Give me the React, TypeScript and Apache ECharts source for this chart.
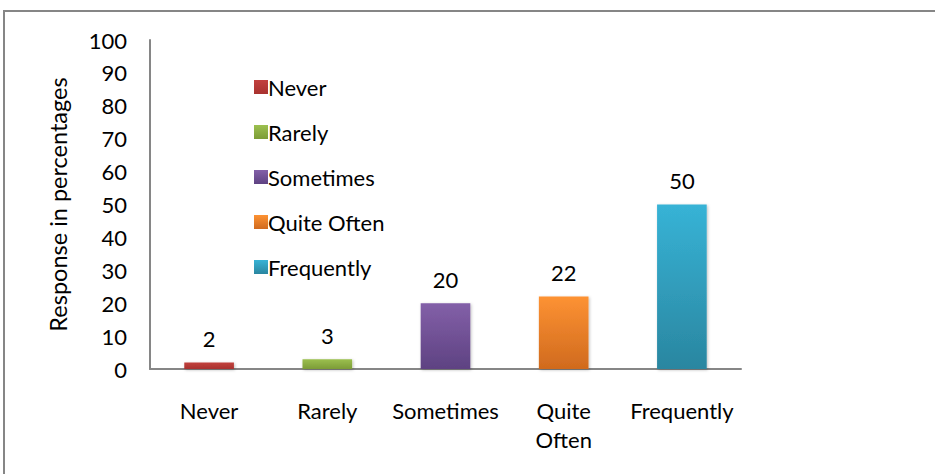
import React, { useEffect, useRef } from "react";
import * as echarts from "echarts";

const categories = ["Never", "Rarely", "Sometimes", "Quite Often", "Frequently"];
const values = [2, 3, 20, 22, 50];
const topColors = ["#c2413e", "#9cc04f", "#8360a8", "#fd9233", "#37b3d6"];
const bottomColors = ["#a8322f", "#7c9c36", "#5e4282", "#d06a1e", "#2a86a0"];
const yTicks = { min: 0, max: 100, interval: 10 };

const FONT = "Lato";
const FS = 22;

export default function App() {
  const ref = useRef<HTMLDivElement>(null);
  useEffect(() => {
    if (!ref.current) return;
    const chart = echarts.init(ref.current, undefined, { renderer: "svg" });
    const series = categories.map((name, i) => ({
      name,
      type: "bar",
      stack: "all",
      barWidth: "42%",
      data: categories.map((_, j) => (j === i ? values[i] : null)),
      itemStyle: {
        color: new echarts.graphic.LinearGradient(0, 0, 0, 1, [
          { offset: 0, color: topColors[i] },
          { offset: 1, color: bottomColors[i] },
        ]),
        shadowColor: "rgba(0,0,0,0.25)",
        shadowBlur: 3,
        shadowOffsetX: 1,
        shadowOffsetY: 1,
      },
      label: {
        show: true,
        position: "top",
        distance: 13,
        color: "#000",
        fontFamily: FONT,
        fontSize: FS,
      },
    }));
    chart.setOption({
      animation: false,
      backgroundColor: "#fff",
      textStyle: { fontFamily: FONT },
      graphic: [
        {
          type: "rect",
          shape: { x: 4, y: 11, width: 1000, height: 1000 },
          style: { fill: "none", stroke: "#868686", lineWidth: 2 },
          silent: true,
        },
      ],
      legend: {
        orient: "vertical",
        left: 249,
        top: 71,
        itemWidth: 14,
        itemHeight: 14,
        itemGap: 23,
        icon: "rect",
        data: categories,
        textStyle: { fontFamily: FONT, fontSize: FS, color: "#000", padding: [0, 0, 0, -5] },
      },
      grid: { left: 150, right: 194, top: 40, bottom: 105 },
      xAxis: {
        type: "category",
        data: categories,
        axisLine: { lineStyle: { color: "#868686", width: 2 } },
        axisTick: { show: false },
        axisLabel: {
          color: "#000",
          fontFamily: FONT,
          fontSize: FS,
          margin: 27,
          lineHeight: 29,
          interval: 0,
          formatter: (v: string) => (v === "Quite Often" ? "Quite\nOften" : v),
        },
      },
      yAxis: {
        type: "value",
        min: yTicks.min,
        max: yTicks.max,
        interval: yTicks.interval,
        name: "Response in percentages",
        nameLocation: "middle",
        nameRotate: 90,
        nameGap: 80,
        nameTextStyle: { color: "#000", fontFamily: FONT, fontSize: 23.5 },
        axisLine: { show: true, lineStyle: { color: "#868686", width: 2 } },
        axisTick: { show: false },
        splitLine: { show: false },
        axisLabel: { color: "#000", fontFamily: FONT, fontSize: FS, margin: 23 },
      },
      series,
    });
    return () => chart.dispose();
  }, []);
  return (
    <div
      ref={ref}
      style={{ position: "fixed", left: 0, top: 0, width: 935, height: 474 }}
    />
  );
}
